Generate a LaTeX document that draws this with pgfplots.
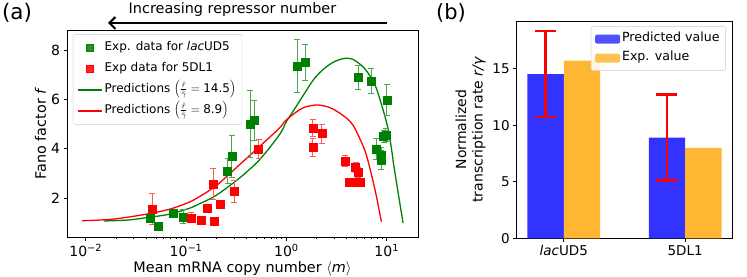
\documentclass[border=0pt]{standalone}
\usepackage{pgfplots}
\pgfplotsset{compat=1.18}
\usepackage{fontspec}
\setmainfont{DejaVu Sans}
\usetikzlibrary{arrows.meta}

\definecolor{mplgreen}{RGB}{0,128,0}
\definecolor{mplred}{RGB}{255,0,0}
\definecolor{barblue}{RGB}{51,51,255}
\definecolor{barorange}{RGB}{255,183,51}

\pgfplotsset{
  linelegend/.style={legend image code/.code={\draw[##1, line width=1.4pt] (0pt,0pt) -- (24pt,0pt);}},
  marklegend/.style={legend image code/.code={\draw[mark repeat=2,mark phase=2,##1, mark size=3.3pt] plot coordinates {(0pt,0pt) (12pt,0pt) (24pt,0pt)};}},
  patchlegend/.style={legend image code/.code={\fill[##1] (0pt,-4.5pt) rectangle (25pt,4.5pt);}},
  mplaxis/.style={
    scale only axis,
    axis line style={black, line width=0.8pt},
    tick align=outside,
    tick pos=left,
    major tick length=3.5pt,
    minor tick length=2pt,
    every tick/.style={black, line width=0.7pt},
    /pgf/number format/assume math mode=true,
  },
}

\begin{document}
\begin{tikzpicture}[x=1pt,y=1pt]
\useasboundingbox (0,0) rectangle (747,276);

% ---------------- panel (a) ----------------
\begin{axis}[
  mplaxis,
  at={(67pt,39pt)}, anchor=south west,
  width=351pt, height=207pt,
  xmode=log, xmin=0.0065, xmax=20.5,
  ymin=0.42, ymax=8.81,
  xtick={0.01,0.1,1,10},
  xticklabels={10\textsuperscript{−2},10\textsuperscript{−1},10\textsuperscript{0},10\textsuperscript{1}},
  ytick={2,4,6,8},
  tick label style={font=\fontsize{14}{16}\selectfont},
  label style={font=\fontsize{14.4}{17}\selectfont},
  xlabel={Mean mRNA copy number $\langle$\textit{m}$\rangle$},
  ylabel={Fano factor \textit{f}},
  xlabel style={yshift=2pt},
  ylabel style={yshift=-2pt},
  legend style={at={(0.017,0.98)}, anchor=north west,
    font=\fontsize{12}{14}\selectfont,
    draw=black!20, rounded corners=2pt, fill=white, fill opacity=0.85, text opacity=1,
    inner sep=4pt, row sep=2pt,
    nodes={text height=10pt, text depth=5pt}},
  legend cell align=left,
]
% prediction curves
\addplot[mplgreen, line width=1.3pt, smooth, forget plot] coordinates {
(0.01514,1.07) (0.0269,1.11) (0.0427,1.22) (0.0676,1.34) (0.1072,1.58)
(0.1349,1.76) (0.1698,1.95) (0.2138,2.19) (0.339,2.80) (0.537,3.54)
(0.851,4.56) (1.0,5.10) (1.202,5.60) (1.514,6.24) (1.905,6.85)
(2.399,7.26) (3.02,7.53) (3.80,7.66) (4.60,7.62) (5.80,7.32)
(6.80,6.95) (7.88,6.45) (9.93,5.09) (11.0,4.15) (12.02,3.07) (14.56,0.98)};
\addplot[mplred, line width=1.3pt, smooth, forget plot] coordinates {
(0.00918,1.08) (0.01832,1.14) (0.03954,1.34) (0.0676,1.54) (0.1072,1.83)
(0.1349,2.05) (0.1698,2.30) (0.2138,2.60) (0.339,3.34) (0.537,4.08)
(0.851,4.83) (0.955,5.09) (1.202,5.43) (1.514,5.68) (2.056,5.77)
(2.80,5.64) (3.80,5.30) (4.60,4.96) (5.40,4.40) (6.27,3.74) (7.59,2.39) (8.85,1.04)};

% experimental data
\addplot[only marks, mark=square*, mark size=4pt, color=mplgreen, marklegend,
  error bars/.cd, y dir=both, y explicit,
  error bar style={line width=1pt, mplgreen!70},
  error mark options={rotate=90, mark size=3pt, line width=1pt, mplgreen!70}]
coordinates {
(0.0437,1.20) +- (0,0.1)
(0.0528,0.85) +- (0,0.06)
(0.074,1.39) +- (0,0.1)
(0.094,1.24) +- (0,0.28)
(0.259,3.10) +- (0,0.5)
(0.286,3.68) +- (0,0.85)
(0.434,4.99) +- (0,1.35)
(0.479,5.15) +- (0,0.8)
(1.28,7.34) +- (0,1.07)
(1.54,7.51) +- (0,0.73)
(5.21,6.88) +- (0,0.5)
(7.03,6.74) +- (0,0.49)
(10.0,5.97) +- (0,0.62)
(9.77,4.55) +- (0,0.27)
(9.3,4.50) +- (0,0.25)
(7.88,3.99) +- (0,0.44)
(8.85,3.74) +- (0,0.3)
(8.85,3.54) +- (0,0.4)
};
\addlegendentry{Exp. data for \textit{lac}UD5}
\addplot[only marks, mark=square*, mark size=4pt, color=mplred, marklegend,
  error bars/.cd, y dir=both, y explicit,
  error bar style={line width=1pt, mplred!65},
  error mark options={rotate=90, mark size=3pt, line width=1pt, mplred!65}]
coordinates {
(0.046,1.56) +- (0,0.64)
(0.112,1.20) +- (0,0.2)
(0.141,1.10) +- (0,0.1)
(0.161,1.57) +- (0,0.15)
(0.19,1.07) +- (0,0.15)
(0.217,1.75) +- (0,0.15)
(0.187,2.57) +- (0,0.63)
(0.302,2.26) +- (0,0.45)
(0.528,3.99) +- (0,0.38)
(1.83,4.83) +- (0,0.34)
(1.83,4.06) +- (0,0.36)
(2.25,4.61) +- (0,0.39)
(3.86,3.50) +- (0,0.23)
(4.9,3.24) +- (0,0.2)
(5.17,3.03) +- (0,0.2)
(4.2,2.66) +- (0,0.15)
(4.79,2.66) +- (0,0.15)
(5.45,2.66) +- (0,0.15)
};
\addlegendentry{Exp data for 5DL1}
\addlegendimage{mplgreen, linelegend}
\addlegendentry{Predictions $\left(\frac{\hat{r}}{\hat{\gamma}}=\mbox{14.5}\right)$}
\addlegendimage{mplred, linelegend}
\addlegendentry{Predictions $\left(\frac{\hat{r}}{\hat{\gamma}}=\mbox{8.9}\right)$}
\end{axis}

% ---------------- panel (b) ----------------
\begin{axis}[
  mplaxis,
  at={(516.7pt,37.7pt)}, anchor=south west,
  width=215.6pt, height=217.3pt,
  xmin=-0.388, xmax=1.388, ymin=0, ymax=19.2,
  xtick={0,1}, xticklabels={\textit{lac}UD5,5DL1},
  ytick={0,5,10,15},
  tick label style={font=\fontsize{13.5}{16}\selectfont},
  label style={font=\fontsize{14}{16.5}\selectfont},
  ylabel={Normalized\\transcription rate \textit{r/γ}},
  ylabel style={align=center},
  legend style={at={(0.97,0.975)}, anchor=north east,
    font=\fontsize{12.6}{15}\selectfont,
    draw=black!20, rounded corners=2pt, fill=white, fill opacity=0.85, text opacity=1,
    inner sep=4pt, row sep=2pt,
    nodes={text height=9pt, text depth=4pt}},
  legend cell align=left,
]
\addplot[ybar, bar width=0.3, bar shift=-0.15, fill=barblue, draw=none, patchlegend]
  coordinates {(0,14.5) (1,8.9)};
\addlegendentry{Predicted value}
\addplot[ybar, bar width=0.3, bar shift=0.15, fill=barorange, draw=none, patchlegend]
  coordinates {(0,15.7) (1,8.0)};
\addlegendentry{Exp. value}
\addplot[draw=none, mark=none, forget plot,
  error bars/.cd, y dir=both, y explicit,
  error bar style={line width=2.5pt, mplred},
  error mark options={rotate=90, mark size=10.5pt, line width=2.5pt, mplred}]
  coordinates {(-0.15,14.5) +- (0,3.8) (0.85,8.9) +- (0,3.8)};
\end{axis}

% annotations
\node[font=\fontsize{21.5}{24}\selectfont] at (17,263) {(a)};
\node[font=\fontsize{21}{24}\selectfont] at (451,263) {(b)};
\node[font=\fontsize{14.4}{17}\selectfont] at (232.5,266) {Increasing repressor number};
\draw[line width=2pt, -{Straight Barb[length=6pt,width=12pt]}] (387,253) -- (108,253);
\end{tikzpicture}
\end{document}
